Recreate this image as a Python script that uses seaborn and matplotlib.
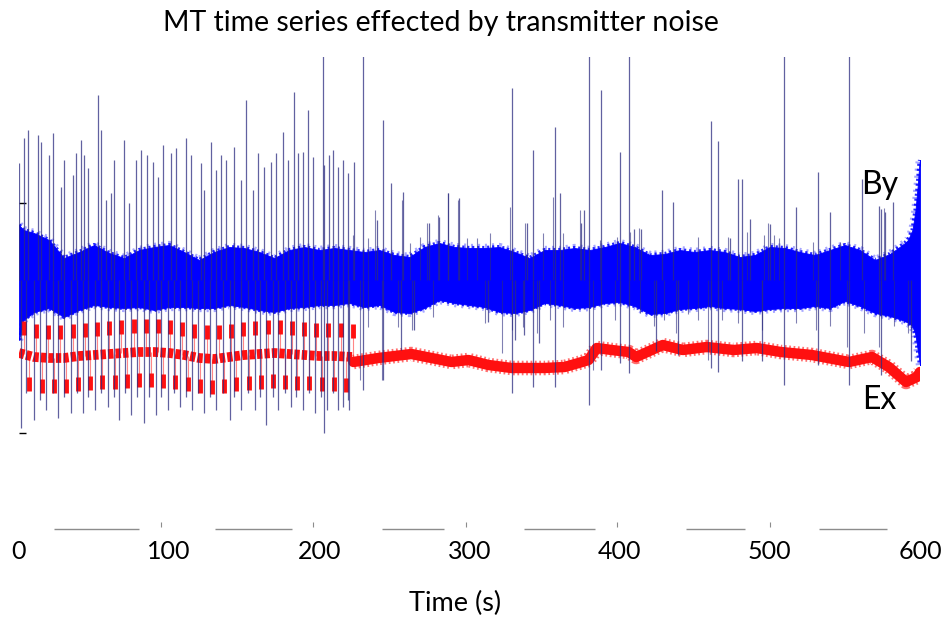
import numpy as np
import pandas as pd
import matplotlib
matplotlib.use("Agg")
import matplotlib.pyplot as plt
import seaborn as sns

# ---------------- data ----------------
# By envelope of the dense noise band (arbitrary units, band centre = 0)
env_t = [0, 3, 10, 20, 30, 40, 50, 60, 70, 80, 90, 100, 110, 120, 130, 140, 150,
         160, 170, 180, 190, 200, 210, 220, 230, 240, 250, 260, 270, 280, 290,
         300, 310, 320, 330, 340, 350, 360, 370, 380, 390, 400, 410, 420, 430,
         440, 450, 460, 470, 480, 490, 500, 510, 520, 530, 540, 550, 560, 570,
         580, 590, 592, 595, 597, 598.5, 599.5, 600]
by_upper = [55, 50, 47, 40, 22, 28, 35, 27, 22, 30, 33, 35, 28, 20, 28, 33, 32,
            28, 22, 30, 33, 30, 32, 30, 28, 30, 25, 23, 33, 37, 33,
            32, 32, 33, 28, 22, 30, 30, 32, 30, 33, 37, 33, 25, 26,
            30, 28, 30, 28, 23, 25, 33, 32, 28, 25, 30, 35, 30, 20,
            26, 37, 40, 50, 70, 95, 115, 120]
by_lower = [-60, -40, -32, -28, -37, -30, -25, -27, -28, -27, -30, -27, -27, -28, -28, -25, -27,
            -30, -32, -28, -27, -25, -25, -23, -27, -25, -32, -33, -28, -20, -23,
            -25, -27, -32, -33, -30, -23, -25, -28, -27, -23, -22, -26, -34, -33,
            -29, -28, -26, -28, -29, -31, -29, -28, -28, -26, -28, -21, -26, -33,
            -36, -41, -43, -46, -55, -70, -80, -85]

# By impulsive spikes: time (s) and peak value
up_spike_t = [0, 3.3, 6, 12.7, 14.7, 20, 22.7, 28, 30, 36, 38, 41.3, 43.3, 46, 52.7,
              54.7, 58, 61.3, 63.3, 70, 73.3, 78, 81.3, 85.3, 89.3, 92.7, 96, 101.3,
              104.7, 111.3, 114.7, 121.3, 123.3, 128, 131.3, 134.7, 138, 143.3, 148,
              151.3, 156, 159.3, 163.3, 168, 171.3, 176, 179.3, 183.3, 186, 189.3,
              192.7, 196, 202.7, 203.3, 206.7, 209.3, 212.7, 216, 219.3, 223.3,
              229.3, 238.7, 242.7, 248, 256, 272.7, 280, 286, 293.3, 328, 338, 342,
              356.7, 360, 374, 376, 379.3, 387.3, 400, 406, 409.3, 414, 428, 435.3,
              460.7, 465.3, 473.3, 478.7, 481.3, 486.7, 500, 509.3, 517.3, 532, 540,
              552.7, 561.3, 572.7, 574, 576.7, 582]
up_spike_v = [117, 142, 150, 145, 138, 125, 147, 93, 120, 105, 127, 140, 125, 112, 185,
              150, 80, 87, 120, 140, 77, 120, 130, 125, 118, 103, 135, 127,
              132, 142, 125, 117, 90, 138, 110, 125, 120, 133, 100,
              180, 90, 127, 113, 118, 127, 148, 120, 188, 127, 128,
              170, 123, 250, 115, 125, 130, 113, 120, 107, 118,
              250, 60, 160, 97, 88, 57, 63, 87, 82, 192, 57, 130,
              153, 87, 57, 70, 250, 190, 128, 250, 51, 51, 90, 78,
              159, 139, 42, 101, 101, 61, 56, 250, 73, 108, 68,
              250, 101, 74, 71, 68, 78]
down_spike_t = [1.3, 4.7, 9.8, 14.2, 18, 22.5, 25.8, 30.2, 34.7, 38.7, 42.5, 46.2, 50.9,
                54.7, 59.1, 63.1, 66.9, 70.7, 74.7, 78.7, 83.1, 86.9, 90.9, 94.7, 99.1,
                103.1, 107.3, 111.3, 115.1, 119.1, 123.5, 127.5, 131.3, 135.8, 140.2,
                143.5, 148, 152.5, 156.9, 160.2, 164.7, 169.1, 172.5, 176.9, 180.9,
                184.7, 189.1, 192.9, 196.9, 200.9, 203, 205, 209, 212.7, 216, 219.3,
                220, 229.3, 242.7, 254.7, 263.3, 312, 328, 330, 336, 342, 346, 356.7,
                379.3, 387.3, 400, 406, 424, 438.7, 460.7, 465.3, 481.3, 494.7, 509.3,
                532, 552.7, 574, 594]
down_spike_v = [-148, -113, -140, -120, -130, -113, -138, -117, -133, -113, -133, -117, -130,
                -113, -127, -117, -140, -113, -135, -117, -143, -117, -135, -117, -130,
                -113, -127, -117, -130, -113, -133, -117, -130, -113, -140,
                -117, -130, -113, -130, -117, -145, -117, -130, -113, -127,
                -117, -130, -113, -133, -117, -153, -130, -113, -130, -127, -120,
                -130, -110, -100, -70, -50, -42, -113, -60, -55, -107, -63, -107,
                -125, -90, -83, -93, -71, -75, -88, -92, -81, -81, -105,
                -85, -105, -95, -81]
# smaller By spikes just poking out of the band
minor_up_t = [222.4, 232.4, 237, 255, 260.3, 267, 271.6, 279, 285.6, 292.3, 298.3,
              305, 313.6, 326.9, 336.9, 348.9, 355.5, 362.2, 373.5, 386.8, 398.1,
              406.8, 412.8, 452, 472, 484.7, 496, 498.7, 502.7, 506, 528.6, 546.6, 576]
minor_up_v = [45, 42, 70, 80, 37, 43, 57, 65, 87, 80, 42,
              42, 47, 73, 57, 47, 83, 47, 70, 40, 43,
              48, 52, 43, 43, 48, 45, 57, 45, 42, 38, 38, 72]
minor_down_t = [227, 232.4, 241.7, 252.3, 261.7, 275.6, 310.3, 321.6, 328.2, 335.6,
                344.9, 353.5, 362.2, 382.2, 396.8, 413.4, 422.8, 429.4, 437.4, 445.4,
                452, 458.7, 468, 478.7, 494.7, 517.3, 530.6, 540, 551.3, 562.6, 572.6,
                582.5, 591.8]
minor_down_v = [-100, -47, -100, -47, -50, -37, -43, -73, -50, -47,
                -53, -40, -47, -90, -40, -33, -46, -40, -53, -34,
                -40, -80, -40, -43, -50, -43, -50, -46, -67, -53, -67,
                -46, -53]

# Ex: level during the transmitter-on part and the drift after it
ex_on_t = [0, 10, 20, 30, 40, 50, 60, 70, 80, 90, 100, 110, 120, 130, 140, 150,
           160, 170, 180, 190, 200, 210, 222.5]
ex_on_v = [4, 0, -1, -1, 1, 2, 3, 4, 5, 5, 4, 2, -1, -2, 0, 2, 3, 4, 3, 2, 1, 1, 0]
ex_off_t = [222.7, 239.3, 261.3, 274.7, 288, 299.3, 312.7, 328, 339.3, 350, 363.3,
            372.7, 379.3, 384.7, 394.7, 406, 411, 428.7, 442, 458, 476, 491.3,
            507.3, 528, 552.7, 568, 579.3, 590.7, 598, 600]
ex_off_v = [-5, -1, 3, -1, -5, -3, -8, -11, -11, -11, -10, -6, -3, 9, 7, 5, 0, 12,
            7, 10, 7, 9, 5, 2, -5, 0, -10, -25, -20, -15]
# Ex transmitter pulses (times of positive and negative pulses)
ex_pos_t = [3.3, 11.4, 19.5, 27.6, 35.7, 43.9, 52.0, 60.1, 68.2, 76.3, 84.4, 92.5,
            100.6, 108.7, 116.8, 124.9, 133.1, 141.2, 149.3, 157.4, 165.5, 173.6,
            181.7, 189.8, 197.9, 206.0, 214.1, 222.3]
ex_neg_t = [6.9, 15.0, 23.1, 31.2, 39.3, 47.5, 55.6, 63.7, 71.8, 79.9, 88.0, 96.1,
            104.2, 112.3, 120.4, 128.5, 136.7, 144.8, 152.9, 161.0, 169.1, 177.2,
            185.3, 193.4, 201.5, 209.6, 217.7]
ex_pulse_amp = 31

xtick_vals = [0, 100, 200, 300, 400, 500, 600]
xtick_labels = ["0", "100", "200", "300", "400", "500", "600"]
baseline_segments = [(23.6, 79.9), (130.5, 182), (242, 283), (336, 383.5),
                     (444, 483.4), (532.6, 578)]
baseline_ticks = [94.5, 195.7, 298, 398, 500]

title = "MT time series effected by transmitter noise"
xlabel = "Time (s)"

EX_OFFSET = -77
BLUE = "#0000ff"
RED = "#ff1010"
SPIKE = "#2c2c80"

# ---------------- plotting ----------------
sns.set_theme(style="white")
plt.rcParams['font.family'] = ['Lato', 'DejaVu Sans']

fig = plt.figure(figsize=(9.45, 6.22), dpi=100)
ax = fig.add_axes([19 / 945, 1 - 530 / 622, 901 / 945, (530 - 57) / 622])

env = pd.DataFrame({"t": env_t, "up": by_upper, "lo": by_lower})
ax.fill_between(env["t"], env["lo"], env["up"], color=BLUE, lw=0.6, ec=BLUE, zorder=2)
# grainy fringe along the band edges (dotted stroke mimics the noise texture)
for col in ("up", "lo"):
    ax.plot(env["t"], env[col], color=BLUE, lw=3, alpha=0.85, zorder=2,
            linestyle=(0, (0.5, 0.7)))
    ax.plot(env["t"], env[col], color=BLUE, lw=6, alpha=0.35, zorder=2,
            linestyle=(0, (0.25, 0.6)))

ex_on = pd.DataFrame({"t": ex_on_t, "v": np.array(ex_on_v) + EX_OFFSET})
ex_off = pd.DataFrame({"t": ex_off_t, "v": np.array(ex_off_v) + EX_OFFSET})
sns.lineplot(data=ex_on, x="t", y="v", ax=ax, color=RED, lw=7, zorder=3,
             dashes=False, linestyle=(0, (0.55, 0.22)))
sns.lineplot(data=ex_off, x="t", y="v", ax=ax, color=RED, lw=7.5, zorder=3)
# grainy fringe on the Ex trace
ax.plot(ex_off["t"], ex_off["v"], color=RED, lw=10.5, alpha=0.6, zorder=3,
        linestyle=(0, (0.12, 0.18)))

# transmitter pulses on Ex
on_interp = np.interp(ex_pos_t, ex_on_t, ex_on_v) + EX_OFFSET
ax.vlines(ex_pos_t, on_interp, on_interp + ex_pulse_amp, color=RED, lw=0.8, alpha=0.5, zorder=3)
ax.vlines(ex_pos_t, on_interp + ex_pulse_amp - 12, on_interp + ex_pulse_amp + 2,
          color=RED, lw=3.5, zorder=3)
neg_interp = np.interp(ex_neg_t, ex_on_t, ex_on_v) + EX_OFFSET
ax.vlines(ex_neg_t, neg_interp - ex_pulse_amp, neg_interp, color=RED, lw=0.8, alpha=0.5, zorder=3)
ax.vlines(ex_neg_t, neg_interp - ex_pulse_amp - 4, neg_interp - ex_pulse_amp + 10,
          color=RED, lw=3.5, zorder=3)

# By spikes
ax.vlines(up_spike_t, 0, up_spike_v, color=SPIKE, lw=0.9, alpha=0.75, zorder=4)
ax.vlines(down_spike_t, down_spike_v, 0, color=SPIKE, lw=0.9, alpha=0.75, zorder=4)
ax.vlines(minor_up_t, 0, minor_up_v, color=SPIKE, lw=0.8, alpha=0.6, zorder=4)
ax.vlines(minor_down_t, minor_down_v, 0, color=SPIKE, lw=0.8, alpha=0.6, zorder=4)

ax.set_xlim(0, 600)
ax.set_ylim(-250, 223)
for s in ax.spines.values():
    s.set_visible(False)

ax.set_xticks(xtick_vals)
ax.set_xticklabels(xtick_labels, fontsize=18, color="black")
ax.tick_params(axis="x", length=0, pad=7)
ax.set_yticks([77, -153])
ax.set_yticklabels([])
ax.tick_params(axis="y", direction="in", length=5, width=1, color="black", left=True)
ax.set_xlabel("")
ax.set_ylabel("")

for a, b in baseline_segments:
    ax.hlines(-249, a, b, color="#8c8c8c", lw=1, clip_on=False)
ax.vlines(baseline_ticks, -247, -242, color="#8c8c8c", lw=0.8, clip_on=False)

ax.text(573, 95, "By", fontsize=23, ha="center", va="center", color="black")
ax.text(573, -120, "Ex", fontsize=23, ha="center", va="center", color="black")

fig.text(441 / 945, 1 - 23 / 622, title, fontsize=20.5, ha="center", va="center",
         color="black")
fig.text(455 / 945, 1 - 603 / 622, xlabel, fontsize=19.5, ha="center", va="center",
         color="black")

fig.savefig("out.png", dpi=100)
